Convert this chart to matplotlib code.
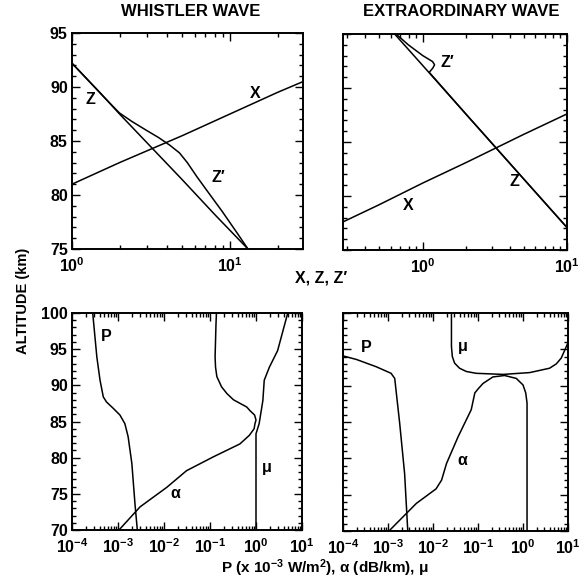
import numpy as np
import matplotlib
matplotlib.use("Agg")
import matplotlib.pyplot as plt
from matplotlib.ticker import LogLocator, NullFormatter, MultipleLocator, FixedLocator

plt.rcParams['font.family'] = ['Liberation Sans', 'DejaVu Sans']
plt.rcParams['font.weight'] = 'bold'
plt.rcParams['mathtext.fontset'] = 'custom'
plt.rcParams['mathtext.rm'] = 'Liberation Sans:bold'
plt.rcParams['mathtext.bf'] = 'Liberation Sans:bold'
plt.rcParams['mathtext.it'] = 'Liberation Sans:bold'
plt.rcParams['mathtext.default'] = 'rm'

# ---------------- data: whistler wave (top left) ----------------
wh_X_x = [1.0, 2.0, 5.0, 10.0, 20.0, 29.0]
wh_X_alt = [81.0, 83.0, 85.5, 87.5, 89.5, 90.5]
wh_Z_x = [1.0, 1.5, 2.0, 3.0, 5.0, 8.0, 13.0]
wh_Z_alt = [92.2, 89.5, 87.5, 84.8, 81.4, 78.2, 75.0]
wh_Zp_x = [1.0, 1.585, 1.995, 2.40, 2.95, 3.55, 4.17, 4.79, 5.37, 6.17, 7.24, 8.91, 11.2, 13.0]
wh_Zp_alt = [92.2, 89.1, 87.6, 86.8, 86.0, 85.3, 84.6, 83.9, 83.0, 81.7, 80.3, 78.5, 76.4, 75.0]

# ---------------- data: extraordinary wave (top right) ----------------
ex_X_x = [0.28, 0.5, 1.0, 2.0, 5.0, 10.0]
ex_X_alt = [77.6, 79.2, 81.2, 83.1, 85.7, 87.6]
ex_Z_x = [0.638, 1.0, 2.0, 5.0, 10.0]
ex_Z_alt = [95.0, 92.08, 87.56, 81.59, 77.08]
ex_Zp_x = [0.653, 0.794, 1.0, 1.169, 1.208, 1.175, 1.109, 2.0, 5.0, 10.0]
ex_Zp_alt = [95.0, 94.0, 93.0, 92.45, 92.15, 91.85, 91.45, 87.56, 81.59, 77.08]

# ---------------- data: whistler P, alpha, mu (bottom left) ----------------
wl_P_x = [2.82e-4, 3.47e-4, 4.07e-4, 4.79e-4, 5.62e-4, 7.94e-4, 1.10e-3, 1.41e-3, 1.66e-3,
          2.0e-3, 2.34e-3, 2.63e-3]
wl_P_alt = [100, 93.9, 90.7, 88.4, 87.7, 86.8, 85.9, 84.7, 82.9, 79.2, 73.6, 70]
wl_a_x = [1.05e-3, 3.02e-3, 1.15e-2, 3.09e-2, 0.117, 0.447, 0.72, 0.91, 0.95, 1.0, 0.93, 0.74,
          0.63, 0.324, 0.234, 0.178, 0.141, 0.132, 0.129, 0.135, 0.138]
wl_a_alt = [70, 73.2, 75.9, 78.2, 80.1, 81.9, 83.1, 84.0, 84.7, 85.2, 85.9, 86.5,
            87.0, 88.0, 88.85, 89.8, 91.2, 92.5, 93.9, 98.5, 100]
wl_mu_x = [1.0, 1.0, 1.17, 1.41, 1.51, 1.95, 2.95, 4.9]
wl_mu_alt = [70, 83.3, 84.7, 87.9, 90.7, 92.5, 94.8, 100]

# ---------------- data: extraordinary P, alpha, mu (bottom right) ----------------
el_P_x = [1e-4, 2.0e-4, 5.5e-4, 1.17e-3, 1.41e-3, 1.82e-3, 2.34e-3, 2.75e-3]
el_P_alt = [94.1, 93.6, 92.6, 91.7, 91.0, 84.8, 77.9, 70]
el_a_x = [1.05e-3, 4.27e-3, 1.17e-2, 1.55e-2, 2.0e-2, 3.63e-2, 5.5e-2, 7.08e-2, 8.5e-2, 0.102,
          0.129, 0.214, 0.389, 0.708, 1.0, 1.15, 1.23, 1.23]
el_a_alt = [70, 73.8, 75.8, 77.0, 79.3, 83.0, 85.3, 86.7, 89.0, 89.6,
            90.3, 91.2, 91.4, 91.0, 90.1, 89.0, 87.6, 70]
el_mu_x = [0.0257, 0.0257, 0.0269, 0.0302, 0.0389, 0.055, 0.0912, 0.363, 1.41, 3.89, 5.5, 7.08,
           8.91, 10.0]
el_mu_alt = [100, 95.4, 94.0, 93.1, 92.4, 91.95, 91.7, 91.55, 91.8, 92.4, 93.0, 93.8,
             95.2, 95.9]

bottom_xticks = [1e-4, 1e-3, 1e-2, 1e-1, 1e0, 1e1]

W, H = 580, 579
fig = plt.figure(figsize=(W / 100, H / 100), dpi=100)

def box(l, t, r, b):
    return [l / W, 1 - b / H, (r - l) / W, (b - t) / H]

ax1 = fig.add_axes(box(72, 33, 303, 249))
ax2 = fig.add_axes(box(343, 34, 567, 250))
ax3 = fig.add_axes(box(72, 313, 302, 530))
ax4 = fig.add_axes(box(343, 313, 568, 531))

lw = 1.1
kw = dict(color='black', lw=lw)

ax1.plot(wh_X_x, wh_X_alt, **kw)
ax1.plot(wh_Z_x, wh_Z_alt, **kw)
ax1.plot(wh_Zp_x, wh_Zp_alt, **kw)

ax2.plot(ex_X_x, ex_X_alt, **kw)
ax2.plot(ex_Z_x, ex_Z_alt, **kw)
ax2.plot(ex_Zp_x, ex_Zp_alt, **kw)

ax3.plot(wl_P_x, wl_P_alt, **kw)
ax3.plot(wl_a_x, wl_a_alt, **kw)
ax3.plot(wl_mu_x, wl_mu_alt, **kw)

ax4.plot(el_P_x, el_P_alt, **kw)
ax4.plot(el_a_x, el_a_alt, **kw)
ax4.plot(el_mu_x, el_mu_alt, **kw)

for ax in (ax1, ax2, ax3, ax4):
    ax.set_xscale('log')
    for s in ax.spines.values():
        s.set_linewidth(1.4)
    ax.tick_params(which='both', direction='in', top=True, right=True, width=1.0)
    ax.tick_params(which='major', length=6, labelsize=11.5)
    ax.tick_params(axis='y', which='major', pad=3)
    ax.tick_params(axis='x', which='major', pad=5)
    ax.tick_params(which='minor', length=3)
    ax.xaxis.set_minor_locator(LogLocator(base=10, subs=np.arange(2, 10), numticks=20))
    ax.xaxis.set_minor_formatter(NullFormatter())

ax1.set_xlim(1, 29)
ax1.set_ylim(75, 95)
ax2.set_xlim(0.28, 10)
ax2.set_ylim(75, 95)
for ax in (ax1, ax2):
    ax.yaxis.set_major_locator(MultipleLocator(5))
    ax.yaxis.set_minor_locator(MultipleLocator(1))
    ax.xaxis.set_major_locator(FixedLocator([1e-1, 1e0, 1e1]))

for ax in (ax3, ax4):
    ax.set_xlim(1e-4, 1e1)
    ax.set_ylim(70, 100)
    ax.set_xticks(bottom_xticks)
    ax.yaxis.set_major_locator(MultipleLocator(5))
    ax.yaxis.set_minor_locator(MultipleLocator(1))

ax2.tick_params(labelleft=False)
ax4.tick_params(labelleft=False)
for ax in (ax1, ax2, ax3, ax4):
    for lab in ax.get_yticklabels() + ax.get_xticklabels():
        lab.set_fontweight('bold')

tfs = 11.5
ax1.text(1.3, 88.8, 'Z', fontsize=tfs, fontweight='bold', ha='center', va='center')
ax1.text(14.5, 89.4, 'X', fontsize=tfs, fontweight='bold', ha='center', va='center')
ax1.text(8.5, 81.6, 'Z\u2032', fontsize=tfs, fontweight='bold', ha='center', va='center')

ax2.text(1.48, 92.4, 'Z\u2032', fontsize=tfs, fontweight='bold', ha='center', va='center')
ax2.text(4.35, 81.3, 'Z', fontsize=tfs, fontweight='bold', ha='center', va='center')
ax2.text(0.79, 79.1, 'X', fontsize=tfs, fontweight='bold', ha='center', va='center')

ax3.text(5.6e-4, 96.7, 'P', fontsize=tfs, fontweight='bold', ha='center', va='center')
ax3.text(1.74e-2, 75.0, '\u03b1', fontsize=tfs, fontweight='bold', ha='center', va='center')
ax3.text(1.7, 78.7, '\u03bc', fontsize=tfs, fontweight='bold', ha='center', va='center')

ax4.text(3.3e-4, 95.2, 'P', fontsize=tfs, fontweight='bold', ha='center', va='center')
ax4.text(4.7e-2, 95.4, '\u03bc', fontsize=tfs, fontweight='bold', ha='center', va='center')
ax4.text(4.5e-2, 79.7, '\u03b1', fontsize=tfs, fontweight='bold', ha='center', va='center')

fig.text(191 / W, 1 - 12 / H, 'WHISTLER WAVE', fontsize=12, fontweight='bold', ha='center', va='center')
fig.text(461 / W, 1 - 12 / H, 'EXTRAORDINARY WAVE', fontsize=12, fontweight='bold', ha='center', va='center')
fig.text(321 / W, 1 - 278 / H, 'X, Z, Z\u2032', fontsize=11.5, fontweight='bold', ha='center', va='center')
fig.text(325 / W, 1 - 568 / H, 'P (x 10$^{-3}$ W/m$^{2}$), \u03b1 (dB/km), \u03bc', fontsize=11,
         fontweight='bold', ha='center', va='center')
fig.text(23 / W, 1 - 301 / H, 'ALTITUDE (km)', fontsize=10.5, fontweight='bold', rotation=90,
         ha='center', va='center')

fig.savefig('out.png', dpi=100)
